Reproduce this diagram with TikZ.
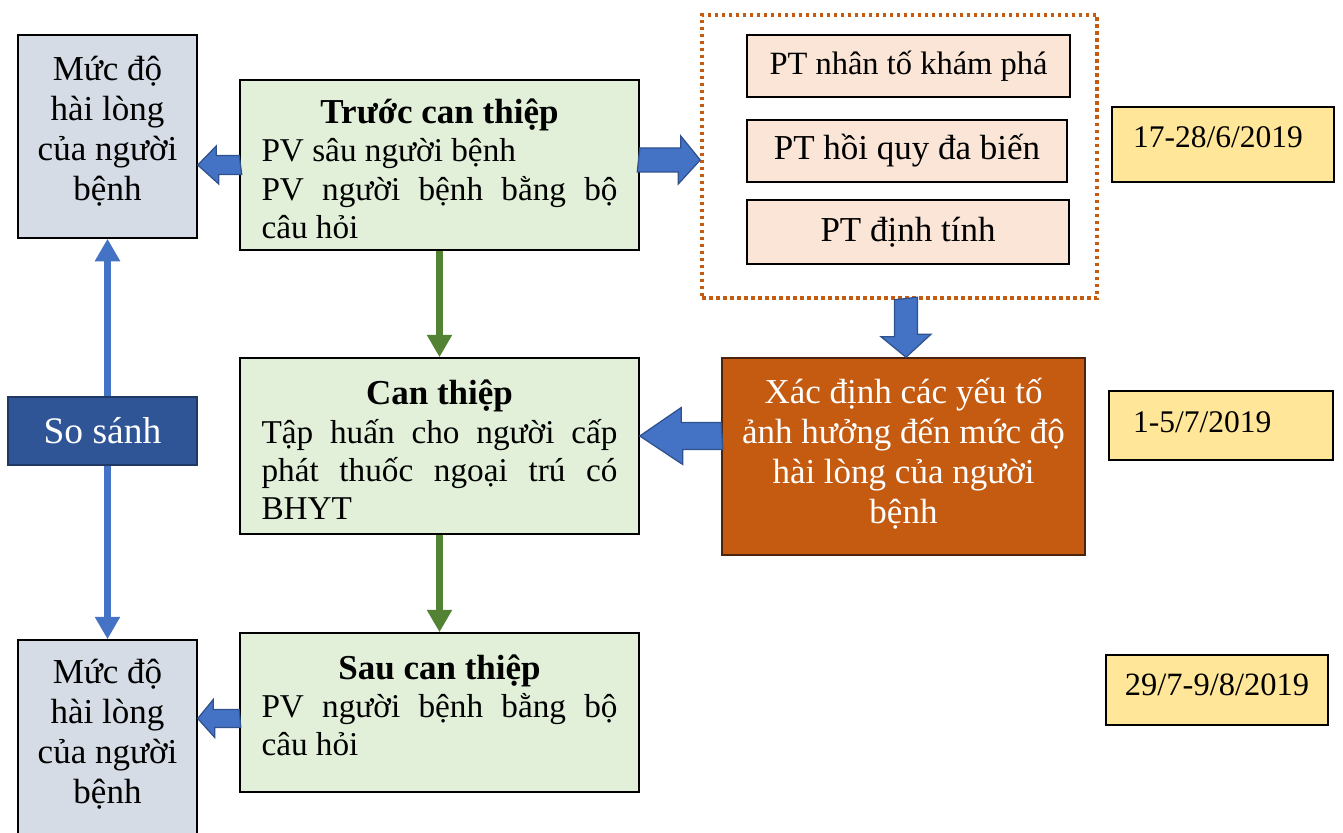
\documentclass[tikz,border=0pt]{standalone}
\usepackage{fontspec}
\setmainfont{Liberation Serif}
\usepackage{tikz}
\usetikzlibrary{arrows.meta,calc}

\definecolor{greyfill}{HTML}{D6DCE5}
\definecolor{greenfill}{HTML}{E2F0D9}
\definecolor{peachfill}{HTML}{FBE5D6}
\definecolor{datefill}{HTML}{FFE699}
\definecolor{navyfill}{HTML}{2F5597}
\definecolor{navyedge}{HTML}{1F3864}
\definecolor{rustfill}{HTML}{C55A11}
\definecolor{rustedge}{HTML}{4A2410}
\definecolor{arrowblue}{HTML}{4472C4}
\definecolor{arrowedge}{HTML}{2F528F}
\definecolor{arrowgreen}{HTML}{548235}

\begin{document}
\begin{tikzpicture}[x=0.4pt,y=-0.4pt]
					\tikzstyle{box}=[draw=black,line width=0.6pt,inner sep=0pt,font=\fontsize{14}{16}\selectfont]
					\tikzstyle{muc}=[box,fill=greyfill,minimum width=71.6pt,align=center]
					\tikzstyle{stage}=[box,fill=greenfill,minimum width=159.6pt,text width=142.4pt,inner xsep=8.6pt,align=justify,font=\fontsize{13.3}{15.3}\selectfont]
					\tikzstyle{ptbox}=[box,fill=peachfill,minimum height=24.8pt]
					\tikzstyle{datebox}=[box,fill=datefill,font=\fontsize{12.6}{14}\selectfont]
					\tikzstyle{blockarrow}=[fill=arrowblue,draw=arrowedge,line width=0.5pt]
					\tikzstyle{cmpline}=[draw=arrowblue,line width=2.8pt,-{Triangle[length=9pt,width=9.6pt]}]
					\tikzstyle{flow}=[draw=arrowgreen,line width=2.8pt,-{Triangle[length=9pt,width=9.6pt]}]
					\useasboundingbox (0,0) rectangle (1343,832);
					\clip (0,0) rectangle (1343,832);
					\node[muc,minimum height=81.2pt,text depth=6.6pt] (mucA) at (107.5,136.5) {Mức độ\\hài lòng\\của người\\bệnh};
					\node[stage,minimum height=68pt] (truoc) at (439.5,165) {{\centering\fontsize{14}{15.3}\selectfont\bfseries\rule{0pt}{13pt}Trước can thiệp\par}PV sâu người bệnh\par PV người bệnh bằng bộ\linebreak câu hỏi};
					\node[draw=rustfill,line width=1.4pt,dash pattern=on 1.4pt off 1.4pt,minimum width=158pt,minimum height=113.2pt] (pt) at (899.5,156.5) {};
					\node[ptbox,minimum width=129.2pt,font=\fontsize{13}{16}\selectfont] (pt1) at (908.5,66) {PT nhân tố khám phá};
					\node[ptbox,minimum width=128pt] (pt2) at (907,151) {PT hồi quy đa biến};
					\node[ptbox,minimum width=128.8pt,minimum height=25.6pt] (pt3) at (908,232) {PT định tính};
					\node[datebox,minimum width=88.8pt,minimum height=30pt,text width=72pt,inner xsep=8.4pt,align=left,text depth=6pt] (d1) at (1223,144.5) {17-28/6/2019};
					\node[box,fill=navyfill,draw=navyedge,text=white,font=\fontsize{15}{17}\selectfont,minimum width=75.6pt,minimum height=27.2pt] (sosanh) at (102.5,431) {So sánh};
					\node[stage,minimum height=70.4pt] (can) at (439.5,446) {{\centering\fontsize{14}{15.3}\selectfont\bfseries\rule{0pt}{13pt}Can thiệp\par}Tập huấn cho người cấp\linebreak phát thuốc ngoại trú có\linebreak BHYT};
					\node[box,fill=rustfill,draw=rustedge,text=white,align=center,minimum width=145.2pt,minimum height=78.8pt,text depth=4.2pt] (xacdinh) at (903.5,456.5) {Xác định các yếu tố\\ảnh hưởng đến mức độ\\hài lòng của người\\bệnh};
					\node[datebox,minimum width=89.6pt,minimum height=27.6pt,text width=70.4pt,inner xsep=9.6pt,align=left,text depth=2.8pt] (d2) at (1221,425.5) {1-5/7/2019};
					\node[stage,minimum height=63.6pt] (sau) at (439.5,712.5) {{\centering\fontsize{14}{15.3}\selectfont\bfseries Sau can thiệp\par}PV người bệnh bằng bộ\linebreak câu hỏi\rule[-6pt]{0pt}{6pt}};
					\node[muc,minimum height=84pt,text depth=11pt] (mucB) at (107.5,745) {Mức độ\\hài lòng\\của người\\bệnh};
					\node[datebox,minimum width=88.8pt,minimum height=28pt,text width=80pt,inner xsep=4.4pt,align=center,text depth=4pt,font=\fontsize{13}{15}\selectfont] (d3) at (1217,690) {29/7-9/8/2019};
					\draw[blockarrow] ($(truoc.west)+(0,-9.5)$) -- ++(-23,0) -- ++(0,-9.5) -- (mucA.east |- truoc.west) -- ++(21,19) -- ++(0,-9.5) -- ++(23,0) -- cycle;
					\draw[blockarrow] ($(truoc.east |- pt.west)+(0,-8.5)$) -- ++(41,0) -- ++(0,-12) -- ($(pt.west)+(0,3.5)$) -- ++(-22,24) -- ++(0,-12) -- ++(-41,0) -- cycle;
					\draw[blockarrow] ($(xacdinh.north |- pt.south)+(-9,0)$) -- ++(0,37) -- ++(-13.5,0) -- ($(xacdinh.north)+(2.5,0)$) -- ++(25,-23) -- ++(-13.5,0) -- ++(0,-37) -- cycle;
					\draw[blockarrow] ($(xacdinh.west |- can.east)+(0,-23.5)$) -- ++(-40,0) -- ++(0,-15) -- ($(can.east)+(0,-10)$) -- ++(43,28.5) -- ++(0,-15) -- ++(40,0) -- cycle;
					\draw[blockarrow] ($(sau.west)+(0,-3)$) -- ++(-26,0) -- ++(0,-10) -- ($(mucB.east |- sau.west)+(0,6)$) -- ++(17,19) -- ++(0,-10) -- ++(26,0) -- cycle;
					\draw[cmpline] (mucA.south |- sosanh.north) -- (mucA.south);
					\draw[cmpline] (mucB.north |- sosanh.south) -- (mucB.north);
					\draw[flow] (truoc) -- (can);
					\draw[flow] (can) -- (sau);
\end{tikzpicture}
\end{document}
